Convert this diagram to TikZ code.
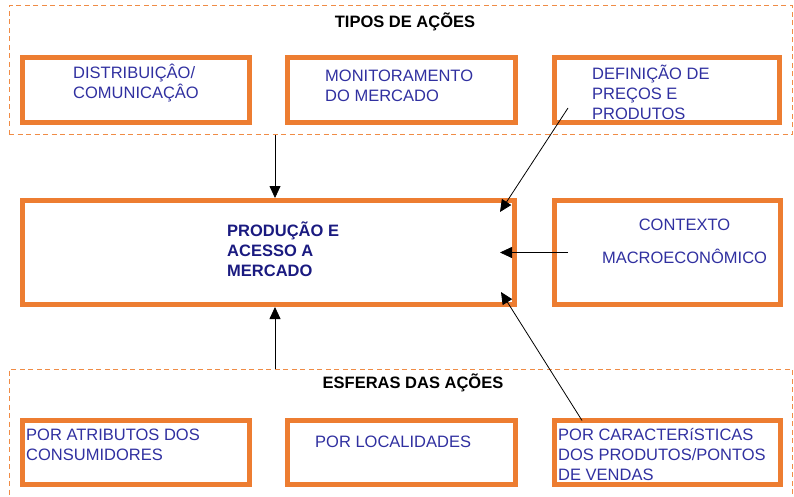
\documentclass[tikz,border=0pt]{standalone}
\usepackage{fontspec}
\setmainfont{Liberation Sans}
\usetikzlibrary{arrows.meta}
\definecolor{figO}{RGB}{237,125,49}
\definecolor{figD}{RGB}{240,140,70}
\definecolor{figT}{RGB}{48,48,160}
\definecolor{figN}{RGB}{26,26,128}
\tikzset{
  caixa/.style={draw=figO, line width=5pt, inner sep=0pt, outer sep=0pt, rectangle},
  moldura/.style={draw=figD, line width=1pt, dash pattern=on 5pt off 3.5pt, inner sep=0pt, outer sep=0pt},
  txt/.style={font=\fontsize{16.5}{20}\selectfont, text=figT, inner sep=0pt, align=left, anchor=west},
  titulo/.style={font=\fontsize{16.5}{20}\selectfont\bfseries, inner sep=0pt},
  seta/.style={-{Triangle[length=12pt,width=11pt]}, line width=0.8pt}
}

\begin{document}
\begin{tikzpicture}[x=1pt, y=-1pt]
\useasboundingbox (0,0) rectangle (794,497);
% dashed frames
\node[moldura, minimum width=783pt, minimum height=129pt] (tipos) at (400.5,70.5) {};
\node[moldura, minimum width=783pt, minimum height=141pt] (esferas) at (400.5,439.5) {};
\node[titulo] (ttipos) at (405,22) {TIPOS DE AÇÕES};
\node[titulo] (tesf) at (413,383) {ESFERAS DAS AÇÕES};
% top row
\node[caixa, minimum width=227pt, minimum height=65pt] (dist) at (136,90) {};
\node[caixa, minimum width=228pt, minimum height=65pt] (moni) at (401.5,90) {};
\node[caixa, minimum width=225pt, minimum height=65pt] (defi) at (667,90) {};
\node[txt] (tdist) at (73,83) {DISTRIBUIÇÂO/\\COMUNICAÇÂO};
\node[txt] (tmoni) at (325,86) {MONITORAMENTO\\DO MERCADO};
\node[txt] (tdefi) at (592,92.5) {DEFINIÇÃO DE\\PREÇOS E\\PRODUTOS};
% middle row
\node[caixa, minimum width=492pt, minimum height=104pt] (prod) at (268.5,252.5) {};
\node[caixa, minimum width=226pt, minimum height=104pt] (ctx) at (667.5,252.5) {};
\node[txt, text=figN, font=\fontsize{16.5}{20}\selectfont\bfseries] (tprod) at (227,249) {PRODUÇÃO E\\ACESSO A\\MERCADO};
\node[txt, align=center, anchor=center] (tctx) at (684.5,241.5) {CONTEXTO\\[13pt]MACROECONÔMICO};
% bottom row
\node[caixa, minimum width=227pt, minimum height=64pt] (atri) at (136,452.5) {};
\node[caixa, minimum width=228pt, minimum height=64pt] (loca) at (401.5,452.5) {};
\node[caixa, minimum width=226pt, minimum height=64pt] (cara) at (667.5,452.5) {};
\node[txt] (tatri) at (26,445) {POR ATRIBUTOS DOS\\CONSUMIDORES};
\node[txt] (tloca) at (315,442) {POR LOCALIDADES};
\node[txt] (tcara) at (558,455) {POR CARACTERíSTICAS\\DOS PRODUTOS/PONTOS\\DE VENDAS};
% arrows
\coordinate (c1) at ([xshift=6.5pt]prod.north);
\coordinate (c2) at ([xshift=6.5pt]prod.south);
\draw[seta, shorten >=2.5pt] (c1 |- tipos.south) -- (c1);
\draw[seta, shorten >=2.5pt] (c2 |- esferas.north) -- (c2);
\draw[seta] ([xshift=13.5pt,yshift=14.5pt]defi.south west) -- ([xshift=-14.5pt,yshift=-11.5pt]prod.north east);
\draw[seta] ([xshift=13.5pt]ctx.west) -- ([xshift=-14.5pt]prod.east);
\draw[seta] ([xshift=27.5pt]cara.north west) -- ([xshift=-13.5pt,yshift=12.5pt]prod.south east);
\end{tikzpicture}
\end{document}
